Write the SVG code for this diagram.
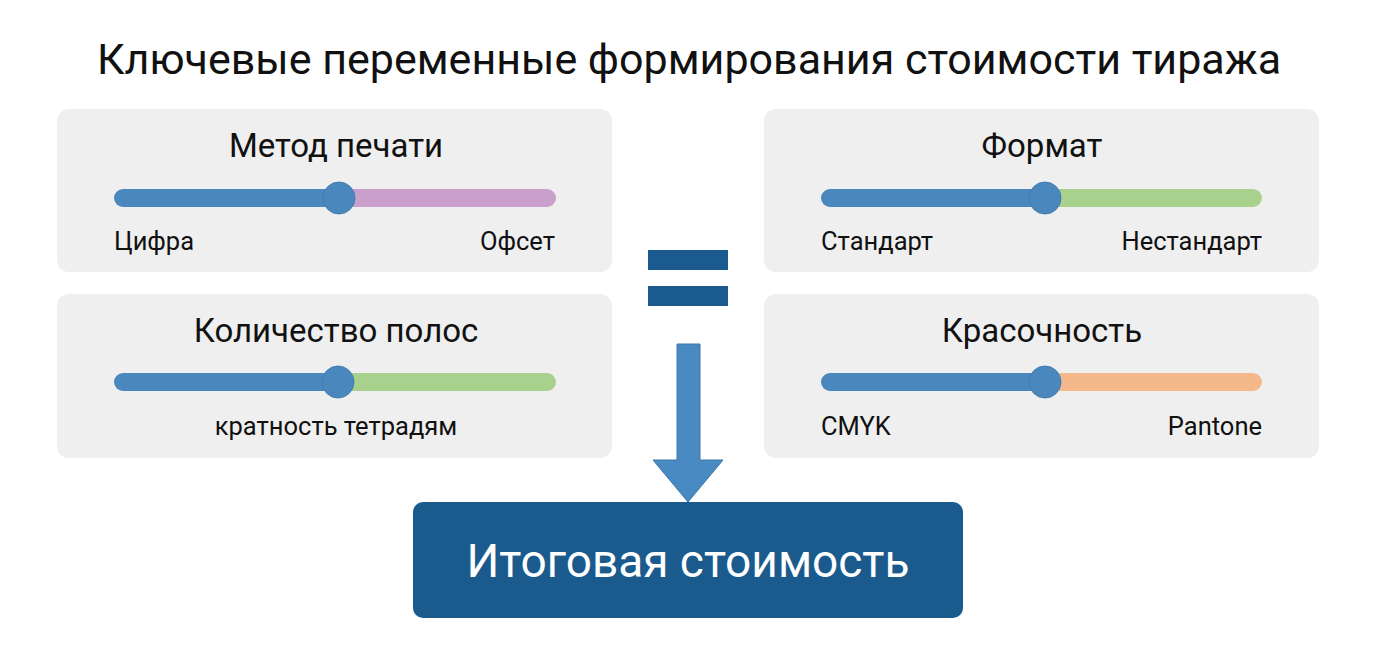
<svg xmlns="http://www.w3.org/2000/svg" width="1376" height="646" viewBox="0 0 1376 646">
<style>
.card{fill:#efefef;}
.title{font-family:"Roboto","Liberation Sans",sans-serif;font-size:43px;fill:#111;text-anchor:middle;}
.ct{font-family:"Roboto","Liberation Sans",sans-serif;font-size:33px;fill:#111;text-anchor:middle;}
.lbl{font-family:"Roboto","Liberation Sans",sans-serif;font-size:25.5px;fill:#111;}
.trk{stroke-width:18;stroke-linecap:round;fill:none;}
.blue{stroke:#4a87bd;}
.knob{fill:#4a87bd;stroke:#3f7db3;stroke-width:1;}
</style>
<rect width="1376" height="646" fill="#ffffff"/>
<text class="title" x="689" y="74">Ключевые переменные формирования стоимости тиража</text>

<g id="card-method">
<rect class="card" x="57" y="109" width="555" height="163" rx="12"/>
<text class="ct" x="336" y="157">Метод печати</text>
<line class="trk" x1="339" y1="198" x2="547" y2="198" stroke="#c9a0cc"/>
<line class="trk blue" x1="123" y1="198" x2="339" y2="198"/>
<circle class="knob" cx="339" cy="198" r="16"/>
<text class="lbl" x="114" y="250">Цифра</text>
<text class="lbl" x="555" y="250" text-anchor="end">Офсет</text>
</g>

<g id="card-pages">
<rect class="card" x="57" y="294" width="555" height="164" rx="12"/>
<text class="ct" x="336" y="342">Количество полос</text>
<line class="trk" x1="338" y1="382" x2="547" y2="382" stroke="#a9d18e"/>
<line class="trk blue" x1="123" y1="382" x2="338" y2="382"/>
<circle class="knob" cx="338" cy="382" r="16"/>
<text class="lbl" x="336" y="435" text-anchor="middle">кратность тетрадям</text>
</g>

<g id="card-format">
<rect class="card" x="764" y="109" width="555" height="163" rx="12"/>
<text class="ct" x="1042" y="157">Формат</text>
<line class="trk" x1="1045" y1="198" x2="1253" y2="198" stroke="#a9d18e"/>
<line class="trk blue" x1="830" y1="198" x2="1045" y2="198"/>
<circle class="knob" cx="1045" cy="198" r="16"/>
<text class="lbl" x="821" y="250">Стандарт</text>
<text class="lbl" x="1262" y="250" text-anchor="end">Нестандарт</text>
</g>

<g id="card-color">
<rect class="card" x="764" y="294" width="555" height="164" rx="12"/>
<text class="ct" x="1042" y="342">Красочность</text>
<line class="trk" x1="1045" y1="382" x2="1253" y2="382" stroke="#f4b88a"/>
<line class="trk blue" x1="830" y1="382" x2="1045" y2="382"/>
<circle class="knob" cx="1045" cy="382" r="16"/>
<text class="lbl" x="821" y="435">CMYK</text>
<text class="lbl" x="1262" y="435" text-anchor="end">Pantone</text>
</g>

<g id="equals">
<rect x="648" y="250" width="80" height="20" fill="#1b5a8e"/>
<rect x="648" y="286" width="80" height="20" fill="#1b5a8e"/>
</g>

<g id="connectors">
<path d="M677 344 H700 V460 H723 L688 502 L653 460 H677 Z" fill="#4a8ac2" stroke="#3a77ad" stroke-width="1"/>
</g>

<g id="total">
<rect x="413" y="502" width="550" height="116" rx="10" fill="#1a5a8c"/>
<text x="688" y="577" text-anchor="middle" font-family="Roboto, 'Liberation Sans', sans-serif" font-size="46" fill="#ffffff">Итоговая стоимость</text>
</g>
</svg>
